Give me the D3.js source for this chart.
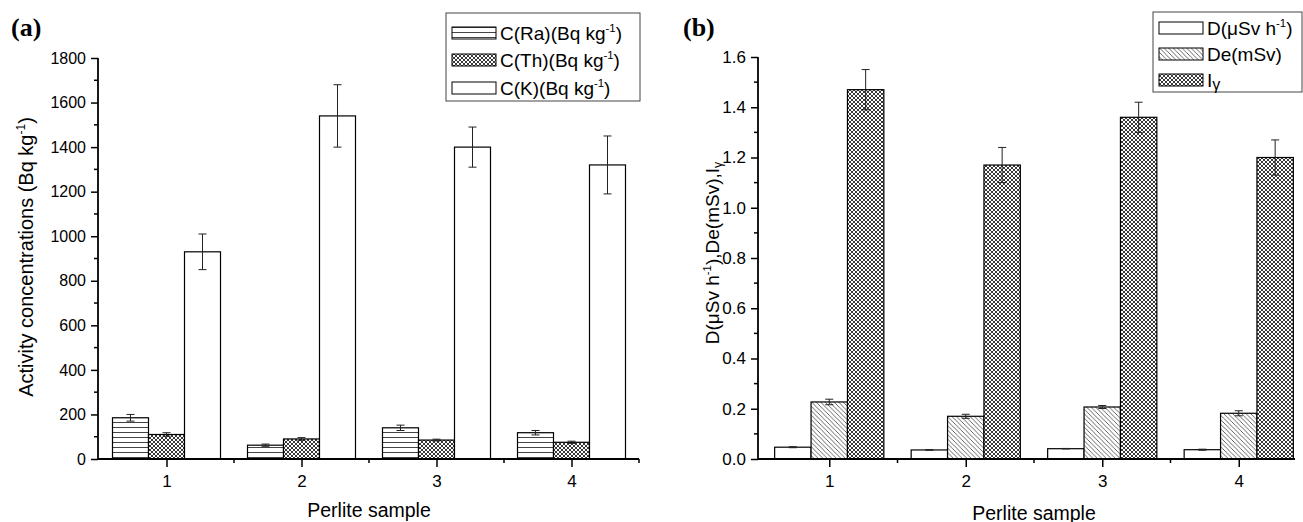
<!DOCTYPE html>
<html><head><meta charset="utf-8">
<script src="https://cdn.jsdelivr.net/npm/d3@7"></script>
<style>body{margin:0;background:#fff}svg{display:block}text{font-family:"Liberation Sans",Arial,sans-serif;fill:#000}</style>
</head><body>
<svg id="c" width="1303" height="522"></svg>
<script>
const samples = [1, 2, 3, 4];
// Panel (a)
const raVals = [185, 62, 140, 118];
const raErr = [15, 5, 12, 10];
const thVals = [110, 90, 85, 75];
const thErr = [8, 6, 4, 5];
const kVals = [930, 1540, 1400, 1320];
const kErr = [80, 140, 90, 130];
const yTicksA = [0, 200, 400, 600, 800, 1000, 1200, 1400, 1600, 1800];
// Panel (b)
const dVals = [0.047, 0.036, 0.041, 0.037];
const dErr = [0.002, 0.001, 0.001, 0.002];
const deVals = [0.227, 0.170, 0.207, 0.182];
const deErr = [0.011, 0.008, 0.006, 0.010];
const igVals = [1.47, 1.17, 1.36, 1.20];
const igErr = [0.08, 0.07, 0.06, 0.07];
const yTicksB = [0.0, 0.2, 0.4, 0.6, 0.8, 1.0, 1.2, 1.4, 1.6];

const svg = d3.select("#c");
const defs = svg.append("defs");
function hatchPattern(id, size, draw) {
  const p = defs.append("pattern").attr("id", id).attr("patternUnits", "userSpaceOnUse")
    .attr("width", size).attr("height", size);
  p.append("rect").attr("width", size).attr("height", size).attr("fill", "#fff");
  draw(p, size);
}
hatchPattern("hRa", 5, (p, s) => {
  p.append("line").attr("x1", 0).attr("x2", s).attr("y1", 2.5).attr("y2", 2.5).attr("stroke", "#444").attr("stroke-width", 1);
});
hatchPattern("xTh", 4, (p, s) => {
  p.append("path").attr("d", `M0,0L${s},${s}M${s},0L0,${s}`).attr("stroke", "#222").attr("stroke-width", 0.9);
});
hatchPattern("dDe", 4.5, (p, s) => {
  p.append("path").attr("d", `M0,0L${s},${s}M${-s},0L${s},${2*s}M0,${-s}L${2*s},${s}`).attr("stroke", "#555").attr("stroke-width", 0.9);
});

function panel(cfg) {
  const g = svg.append("g");
  const x = d3.scaleLinear().domain([0.5, 4.5]).range(cfg.xr);
  const y = d3.scaleLinear().domain(cfg.yd).range(cfg.yr);
  const step = x(2) - x(1);
  const bw = step * 0.8 / 3;
  cfg.series.forEach((s, si) => {
    s.vals.forEach((v, i) => {
      const x0 = x(samples[i]) - 1.5 * bw + si * bw;
      g.append("rect").attr("x", x0).attr("y", y(v)).attr("width", bw).attr("height", y(0) - y(v))
        .attr("fill", s.fill).attr("stroke", "#000").attr("stroke-width", 1.2);
      const cx = x0 + bw / 2;
      const e = s.err[i];
      g.append("path").attr("d", `M${cx},${y(v - e)}V${y(v + e)}M${cx - 4},${y(v + e)}H${cx + 4}M${cx - 4},${y(v - e)}H${cx + 4}`)
        .attr("stroke", "#222").attr("stroke-width", 1).attr("fill", "none");
    });
  });
  const ax = cfg.xr[0] + cfg.yAxisShift;
  // axes
  const yAxis = d3.axisLeft(y).tickValues(cfg.yTicks).tickFormat(cfg.fmt).tickSize(7).tickPadding(5);
  const ya = g.append("g").attr("transform", `translate(${ax},0)`).call(yAxis);
  ya.select(".domain").remove();
  ya.selectAll(".tick line").attr("stroke-width", 1.5);
  ya.selectAll("text").style("font-size", cfg.tickFont + "px");
  const minorY = d3.range(cfg.yTicks.length - 1).map(i => (cfg.yTicks[i] + cfg.yTicks[i + 1]) / 2);
  g.selectAll(null).data(minorY).enter().append("line")
    .attr("x1", ax - 4).attr("x2", ax)
    .attr("y1", d => y(d)).attr("y2", d => y(d)).attr("stroke", "#000").attr("stroke-width", 1.5);
  g.append("line").attr("x1", ax).attr("x2", ax)
    .attr("y1", y(cfg.yd[1])).attr("y2", y(0)).attr("stroke", "#000").attr("stroke-width", 1.8);

  const xAxis = d3.axisBottom(x).tickValues(samples).tickFormat(d3.format("d")).tickSize(8).tickPadding(8);
  const xa = g.append("g").attr("transform", `translate(0,${y(0)})`).call(xAxis);
  xa.select(".domain").remove();
  xa.selectAll(".tick line").attr("stroke-width", 1.5);
  xa.selectAll("text").style("font-size", "17px");
  const minorX = [1.5, 2.5, 3.5, 4.5].filter(d => x(d) <= cfg.xEnd + 1);
  g.selectAll(null).data(minorX).enter().append("line")
    .attr("x1", d => x(d)).attr("x2", d => x(d)).attr("y1", y(0)).attr("y2", y(0) + 4)
    .attr("stroke", "#000").attr("stroke-width", 1.5);
  g.append("line").attr("x1", ax).attr("x2", cfg.xEnd).attr("y1", y(0)).attr("y2", y(0))
    .attr("stroke", "#000").attr("stroke-width", 1.8);

  // titles
  g.append("text").attr("x", (cfg.xr[0] + cfg.xr[1]) / 2).attr("y", cfg.xTitleY).attr("text-anchor", "middle")
    .style("font-size", "19.5px").text("Perlite sample");
  const yt = g.append("text").attr("transform", `translate(${cfg.yTitleX},${cfg.yTitleY}) rotate(-90)`)
    .attr("text-anchor", "middle").style("font-size", cfg.yTitleFont + "px");
  cfg.yTitle(yt);
  g.append("text").attr("x", cfg.labelX).attr("y", 36)
    .style("font-family", "'Liberation Serif','Times New Roman',serif")
    .style("font-weight", "bold").style("font-size", "26px").text(cfg.label);

  // legend
  const L = cfg.legend;
  g.append("rect").attr("x", L.x).attr("y", L.y).attr("width", L.w).attr("height", L.h)
    .attr("fill", "#fff").attr("stroke", "#444").attr("stroke-width", 1);
  cfg.series.forEach((s, si) => {
    const cy = L.rows[si];
    g.append("rect").attr("x", L.x + 6).attr("y", cy - 6).attr("width", 44).attr("height", 12)
      .attr("fill", s.fill).attr("stroke", "#000").attr("stroke-width", 1);
    const t = g.append("text").attr("x", L.x + 54).attr("y", cy + 7).style("font-size", "19px");
    s.label(t);
  });
}
function sup(t, base, sp, rest) {
  t.append("tspan").text(base);
  t.append("tspan").attr("dy", -8).style("font-size", "0.6em").text(sp);
  t.append("tspan").attr("dy", 8).text(rest);
}

panel({
  xr: [99, 639], xEnd: 639, yAxisShift: -1, tickFont: 16,
  yd: [0, 1800], yr: [459, 58], yTicks: yTicksA, fmt: d3.format("d"),
  xTitleY: 516.5, yTitleX: 33, yTitleY: 257, yTitleFont: 20, label: "(a)", labelX: 11,
  yTitle: t => sup(t, "Activity concentrations (Bq kg", "-1", ")"),
  legend: { x: 446, y: 13, w: 194, h: 88, rows: [33, 60, 88] },
  series: [
    { vals: raVals, err: raErr, fill: "url(#hRa)", label: t => sup(t, "C(Ra)(Bq kg", "-1", ")") },
    { vals: thVals, err: thErr, fill: "url(#xTh)", label: t => sup(t, "C(Th)(Bq kg", "-1", ")") },
    { vals: kVals, err: kErr, fill: "#fff", label: t => sup(t, "C(K)(Bq kg", "-1", ")") }
  ]
});
panel({
  xr: [761, 1307], xEnd: 1295, yAxisShift: -3, tickFont: 17,
  yd: [0, 1.6], yr: [459, 57], yTicks: yTicksB, fmt: d3.format(".1f"),
  xTitleY: 519.5, yTitleX: 719, yTitleY: 253, yTitleFont: 19, label: "(b)", labelX: 683,
  yTitle: t => {
    t.append("tspan").text("D(μSv h");
    t.append("tspan").attr("dy", -8).style("font-size", "0.6em").text("-1");
    t.append("tspan").attr("dy", 8).text("),De(mSv),I");
    t.append("tspan").attr("dy", 3).style("font-size", "0.65em").text("γ");
  },
  legend: { x: 1153, y: 12, w: 149, h: 80, rows: [28, 54, 80] },
  series: [
    { vals: dVals, err: dErr, fill: "#fff", label: t => sup(t, "D(μSv h", "-1", ")") },
    { vals: deVals, err: deErr, fill: "url(#dDe)", label: t => t.text("De(mSv)") },
    { vals: igVals, err: igErr, fill: "url(#xTh)", label: t => {
      t.append("tspan").text("I");
      t.append("tspan").attr("dy", 3).style("font-size", "0.85em").text("γ");
    } }
  ]
});
</script>
</body></html>
